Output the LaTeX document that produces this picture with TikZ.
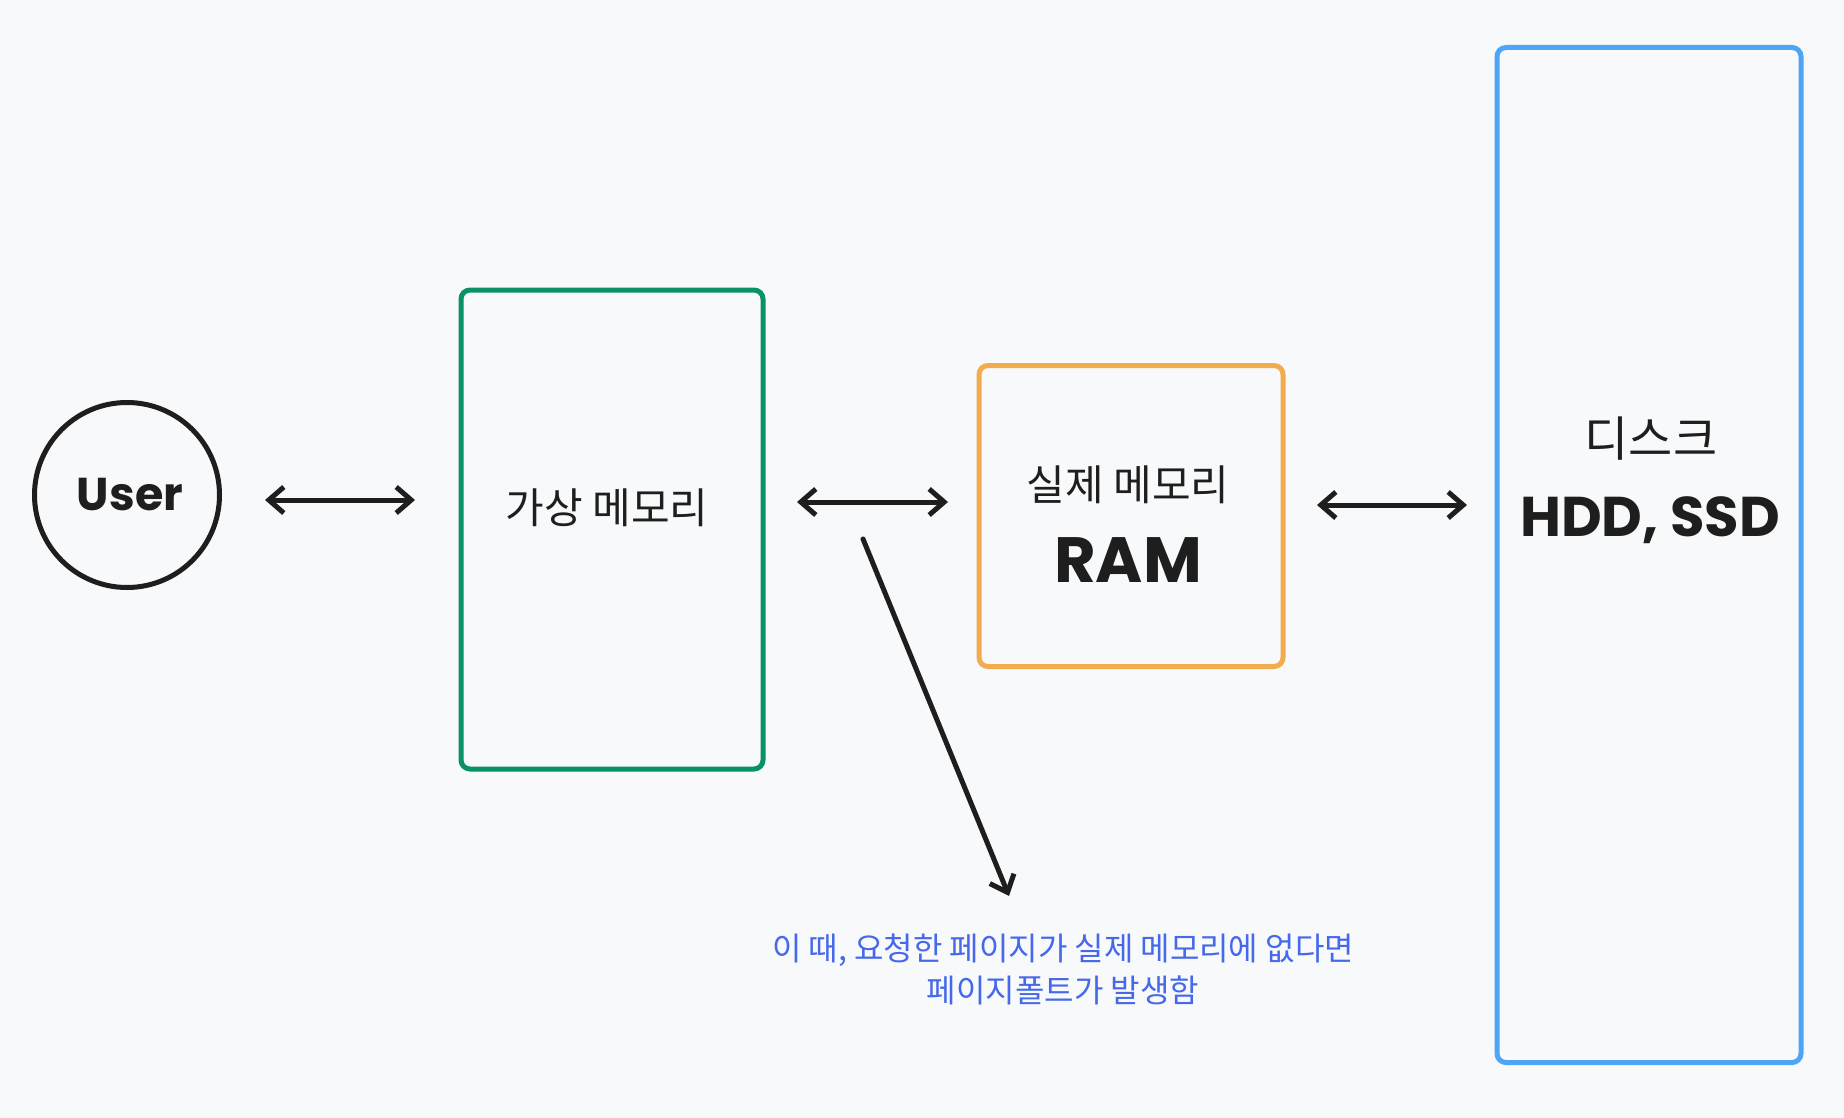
\documentclass[tikz,border=0pt]{standalone}
\usepackage{fontspec}
\usetikzlibrary{arrows.meta}
\newfontfamily\kr{Noto Sans CJK KR}
\newfontfamily\hand{Poppins}[UprightFont=* Bold]
\definecolor{paper}{RGB}{248,249,250}
\definecolor{ink}{RGB}{30,30,30}
\definecolor{vgreen}{RGB}{9,146,104}
\definecolor{ramorange}{RGB}{243,172,77}
\definecolor{diskblue}{RGB}{77,165,245}
\definecolor{noteblue}{RGB}{70,104,235}
\tikzset{
  membox/.style={draw,line width=5pt,rounded corners=9pt,inner sep=0pt},
  usernode/.style={circle,draw=ink,line width=5pt,minimum size=185pt,inner sep=0pt},
  krtext/.style={text=ink,font=\kr\fontsize{42}{46}\selectfont,inner sep=0pt},
  handtext/.style={text=ink,font=\hand\fontsize{56}{60}\selectfont,inner sep=0pt},
  link/.style={draw=ink,line width=5pt,line cap=round,
    {Straight Barb[length=15pt,width=26pt]}-{Straight Barb[length=15pt,width=26pt]}},
  fault/.style={draw=ink,line width=5pt,line cap=round,-{Straight Barb[length=15pt,width=26pt]}},
  note/.style={text=noteblue,font=\kr\fontsize{32}{42}\selectfont,align=center,inner sep=0pt}
}

\begin{document}
\begin{tikzpicture}[x=1pt,y=-1pt]
  % Canvas
  \fill[paper] (0,0) rectangle (1844,1118);
  \useasboundingbox (0,0) rectangle (1844,1118);

  % User
  \node[usernode] (user) at (127,495) {};
  \node[handtext,font=\hand\fontsize{46}{50}\selectfont] (usertxt) at (130,495) {User};

  % Virtual memory
  \node[membox,draw=vgreen,minimum width=302pt,minimum height=479pt] (virt) at (612,529.5) {};
  \node[krtext] (virttxt) at (607,508) {가상 메모리};

  % Physical memory
  \node[membox,draw=ramorange,minimum width=304pt,minimum height=301pt] (ram) at (1131,516) {};
  \node[krtext] (ramtxt) at (1128,485) {실제 메모리};
  \node[handtext,font=\hand\fontsize{64}{68}\selectfont] (ramname) at (1128,560) {RAM};

  % Disk
  \node[membox,draw=diskblue,minimum width=304pt,minimum height=1015pt] (disk) at (1649,555) {};
  \node[krtext,font=\kr\fontsize{48}{52}\selectfont] (disktxt) at (1651,439) {디스크};
  \node[handtext] (diskname) at (1650,520) {HDD, SSD};

  % Arrow end points
  \coordinate (l1a) at (265,500);
  \coordinate (l1b) at (415,500);
  \coordinate (l2a) at (797,502);
  \coordinate (l2b) at (948,502);
  \coordinate (l3a) at (1317,505);
  \coordinate (l3b) at (1467,505);
  \coordinate (fa) at (863,539);
  \coordinate (fb) at (1009,896);

  % Links between layers
  \draw[link] (l1a) -- (l1b);
  \draw[link] (l2a) -- (l2b);
  \draw[link] (l3a) -- (l3b);

  % Page fault note
  \draw[fault] (fa) -- (fb);
  \node[note] (faultnote) at (1063,969) {이 때, 요청한 페이지가 실제 메모리에 없다면\\페이지폴트가 발생함};
\end{tikzpicture}
\end{document}
